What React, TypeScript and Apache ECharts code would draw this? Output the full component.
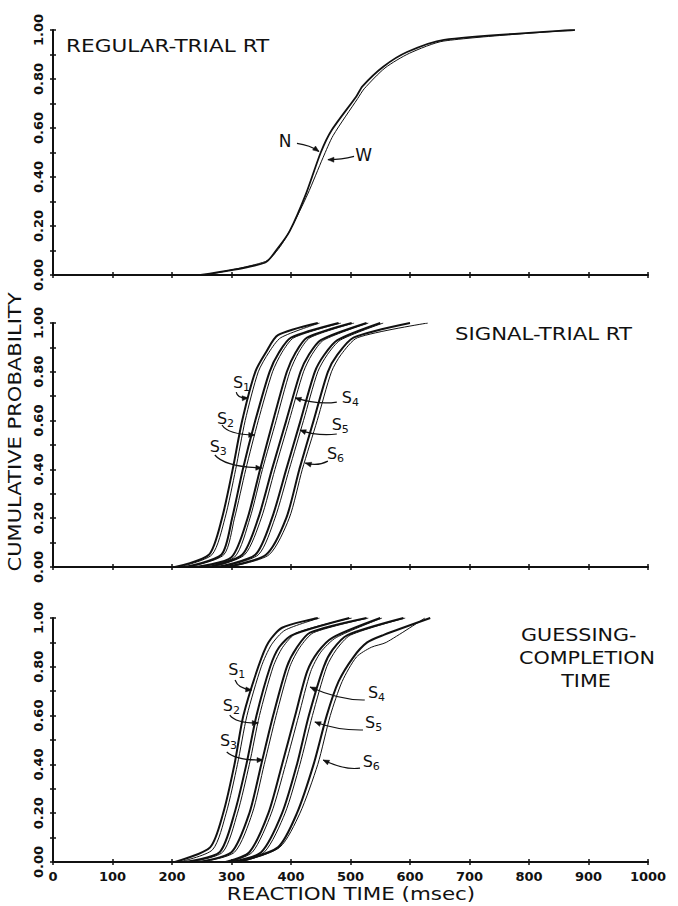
import React, { useEffect, useRef } from "react";
import * as echarts from "echarts";

type Pt = [number, number];

// Axis ranges and tick values
const X_MIN = 0;
const X_MAX = 1000;
const X_STEP = 100;
const Y_MIN = 0;
const Y_MAX = 1;
const Y_STEP = 0.1;

// Regular-trial RT distributions (msec, cumulative probability)
const regularN: Pt[] = [
  [248, 0], [356, 0.05], [378, 0.11], [398, 0.18], [425, 0.33], [450, 0.5],
  [468, 0.59], [510, 0.73], [520, 0.77], [555, 0.85], [595, 0.91], [657, 0.96], [877, 1.0],
];
const regularW: Pt[] = [
  [256, 0], [357, 0.055], [380, 0.11], [400, 0.19], [428, 0.33], [454, 0.48],
  [471, 0.57], [512, 0.72], [523, 0.76], [558, 0.845], [599, 0.905], [657, 0.955], [877, 1.0],
];

// Signal-trial RT, six subjects, two curves each
const signalS1a: Pt[] = [[205, 0], [262, 0.05], [284, 0.2], [302, 0.4], [318, 0.6], [340, 0.8], [358, 0.88], [378, 0.95], [445, 1.0]];
const signalS1b: Pt[] = [[212, 0], [267, 0.05], [289, 0.2], [307, 0.4], [323, 0.6], [345, 0.8], [363, 0.88], [383, 0.94], [448, 1.0]];
const signalS2a: Pt[] = [[222, 0], [283, 0.05], [301, 0.2], [319, 0.4], [340, 0.6], [364, 0.8], [380, 0.88], [400, 0.94], [480, 1.0]];
const signalS2b: Pt[] = [[228, 0], [287, 0.05], [305, 0.2], [324, 0.4], [345, 0.6], [369, 0.8], [385, 0.88], [405, 0.94], [484, 1.0]];
const signalS3a: Pt[] = [[240, 0], [300, 0.04], [327, 0.2], [348, 0.4], [370, 0.6], [393, 0.8], [408, 0.88], [427, 0.94], [502, 1.0]];
const signalS3b: Pt[] = [[246, 0], [305, 0.04], [331, 0.2], [352, 0.4], [375, 0.6], [398, 0.8], [413, 0.88], [432, 0.94], [506, 1.0]];
const signalS4a: Pt[] = [[262, 0], [318, 0.05], [345, 0.2], [368, 0.4], [392, 0.6], [416, 0.8], [430, 0.87], [450, 0.93], [527, 1.0]];
const signalS4b: Pt[] = [[268, 0], [322, 0.05], [350, 0.2], [373, 0.4], [397, 0.6], [421, 0.8], [435, 0.87], [455, 0.93], [530, 1.0]];
const signalS5a: Pt[] = [[276, 0], [340, 0.05], [368, 0.2], [392, 0.4], [416, 0.6], [440, 0.8], [456, 0.87], [478, 0.93], [550, 1.0]];
const signalS5b: Pt[] = [[282, 0], [345, 0.05], [373, 0.2], [397, 0.4], [421, 0.6], [445, 0.8], [461, 0.87], [483, 0.93], [555, 1.0]];
const signalS6a: Pt[] = [[290, 0], [358, 0.05], [392, 0.2], [414, 0.4], [438, 0.6], [462, 0.8], [478, 0.87], [505, 0.94], [600, 1.0]];
const signalS6b: Pt[] = [[296, 0], [363, 0.05], [397, 0.2], [419, 0.4], [444, 0.6], [468, 0.8], [484, 0.87], [512, 0.94], [630, 1.0]];

// Guessing-completion time, six subjects, two curves each
const guessS1a: Pt[] = [[205, 0], [264, 0.06], [286, 0.2], [305, 0.4], [320, 0.6], [345, 0.8], [362, 0.9], [385, 0.96], [445, 1.0]];
const guessS1b: Pt[] = [[212, 0], [268, 0.05], [291, 0.2], [310, 0.4], [326, 0.6], [350, 0.8], [367, 0.89], [390, 0.95], [448, 1.0]];
const guessS2a: Pt[] = [[222, 0], [280, 0.04], [305, 0.2], [325, 0.4], [342, 0.6], [365, 0.8], [380, 0.88], [402, 0.93], [498, 1.0]];
const guessS2b: Pt[] = [[230, 0], [285, 0.04], [310, 0.2], [330, 0.4], [347, 0.6], [370, 0.8], [386, 0.88], [410, 0.94], [502, 1.0]];
const guessS3a: Pt[] = [[245, 0], [300, 0.04], [330, 0.2], [350, 0.4], [370, 0.6], [393, 0.8], [410, 0.88], [432, 0.94], [527, 1.0]];
const guessS3b: Pt[] = [[250, 0], [305, 0.04], [335, 0.2], [355, 0.4], [375, 0.6], [398, 0.8], [415, 0.88], [438, 0.94], [530, 1.0]];
const guessS4a: Pt[] = [[290, 0], [330, 0.04], [362, 0.2], [385, 0.4], [407, 0.6], [427, 0.78], [445, 0.86], [470, 0.92], [550, 1.0]];
const guessS4b: Pt[] = [[296, 0], [335, 0.04], [367, 0.2], [391, 0.4], [413, 0.6], [433, 0.78], [450, 0.86], [476, 0.92], [553, 1.0]];
const guessS5a: Pt[] = [[300, 0], [350, 0.04], [385, 0.2], [410, 0.4], [430, 0.6], [455, 0.8], [470, 0.87], [495, 0.93], [589, 1.0]];
const guessS5b: Pt[] = [[306, 0], [355, 0.04], [390, 0.2], [415, 0.4], [436, 0.6], [460, 0.8], [476, 0.87], [500, 0.93], [592, 1.0]];
const guessS6a: Pt[] = [[310, 0], [378, 0.06], [410, 0.2], [438, 0.4], [460, 0.6], [480, 0.74], [505, 0.84], [528, 0.9], [555, 0.93], [634, 1.0]];
const guessS6b: Pt[] = [[315, 0], [381, 0.06], [415, 0.2], [445, 0.4], [466, 0.6], [486, 0.74], [510, 0.84], [535, 0.88], [560, 0.9], [625, 1.0]];

// Curve annotations in data units: label point, arrow start, control, tip
type Note = { text: string; sub?: string; label: Pt; from: Pt; ctrl: Pt; to: Pt };
const regularNotes: Note[] = [
  { text: "N", label: [390, 0.545], from: [410, 0.537], ctrl: [432, 0.53], to: [447, 0.504] },
  { text: "W", label: [522, 0.49], from: [506, 0.484], ctrl: [482, 0.47], to: [462, 0.471] },
];
const signalNotes: Note[] = [
  { text: "S", sub: "1", label: [311, 0.758], from: [308, 0.717], ctrl: [310, 0.69], to: [328, 0.693] },
  { text: "S", sub: "2", label: [284, 0.61], from: [284, 0.582], ctrl: [294, 0.543], to: [339, 0.541] },
  { text: "S", sub: "3", label: [272, 0.492], from: [272, 0.459], ctrl: [289, 0.41], to: [351, 0.406] },
  { text: "S", sub: "4", label: [494, 0.693], from: [477, 0.676], ctrl: [445, 0.664], to: [407, 0.693] },
  { text: "S", sub: "5", label: [477, 0.582], from: [477, 0.545], ctrl: [445, 0.535], to: [415, 0.561] },
  { text: "S", sub: "6", label: [469, 0.467], from: [462, 0.434], ctrl: [445, 0.412], to: [424, 0.426] },
];
const guessNotes: Note[] = [
  { text: "S", sub: "1", label: [303, 0.787], from: [306, 0.746], ctrl: [311, 0.71], to: [334, 0.705] },
  { text: "S", sub: "2", label: [294, 0.643], from: [297, 0.602], ctrl: [308, 0.568], to: [345, 0.57] },
  { text: "S", sub: "3", label: [289, 0.5], from: [292, 0.451], ctrl: [308, 0.416], to: [353, 0.418] },
  { text: "S", sub: "4", label: [538, 0.693], from: [524, 0.664], ctrl: [482, 0.662], to: [432, 0.717] },
  { text: "S", sub: "5", label: [533, 0.57], from: [521, 0.541], ctrl: [479, 0.539], to: [440, 0.574] },
  { text: "S", sub: "6", label: [529, 0.41], from: [516, 0.385], ctrl: [491, 0.375], to: [454, 0.418] },
];

const INK = "#111";
const FONT = "DejaVu Sans";

const panels = [
  { top: 30, height: 245, curves: [[regularN, 1.8], [regularW, 1.0]] as [Pt[], number][], notes: regularNotes },
  {
    top: 323, height: 244,
    curves: [
      [signalS1a, 2], [signalS1b, 1], [signalS2a, 2], [signalS2b, 1], [signalS3a, 2], [signalS3b, 1],
      [signalS4a, 2], [signalS4b, 1], [signalS5a, 2], [signalS5b, 1], [signalS6a, 2], [signalS6b, 1],
    ] as [Pt[], number][],
    notes: signalNotes,
  },
  {
    top: 618, height: 244,
    curves: [
      [guessS1a, 2], [guessS1b, 1], [guessS2a, 2], [guessS2b, 1], [guessS3a, 2], [guessS3b, 1],
      [guessS4a, 2], [guessS4b, 1], [guessS5a, 2], [guessS5b, 1], [guessS6a, 2], [guessS6b, 1],
    ] as [Pt[], number][],
    notes: guessNotes,
  },
];

function buildOption() {
  const grid = panels.map((p) => ({ left: 53, width: 595, top: p.top, height: p.height }));
  const xAxis: any[] = [];
  const yAxis: any[] = [];
  const labelStyle = { color: INK, fontFamily: FONT, fontWeight: "bold", fontSize: 13 };
  // primary axes (outer ticks, labels)
  panels.forEach((_, k) => {
    xAxis.push({
      type: "value", gridIndex: k, min: X_MIN, max: X_MAX, interval: X_STEP, position: "bottom",
      axisLine: { show: true, onZero: false, lineStyle: { color: INK, width: 2 } },
      axisTick: { show: true, length: 3, lineStyle: { color: INK, width: 1.5 } },
      axisLabel: { show: k === 2, margin: 8, ...labelStyle, formatter: (v: number) => String(v) },
      splitLine: { show: false },
    });
    yAxis.push({
      type: "value", gridIndex: k, min: Y_MIN, max: Y_MAX, interval: Y_STEP, position: "left",
      axisLine: { show: true, onZero: false, lineStyle: { color: INK, width: 2 } },
      axisTick: { show: true, length: 3, lineStyle: { color: INK, width: 1.5 } },
      axisLabel: {
        show: true, rotate: 90, margin: 8, ...labelStyle,
        formatter: (v: number) => (Math.round(v * 10) % 2 === 0 ? v.toFixed(2) : ""),
      },
      splitLine: { show: false },
    });
  });
  // secondary axes (inner ticks, making small crosses)
  panels.forEach((_, k) => {
    xAxis.push({
      type: "value", gridIndex: k, min: X_MIN, max: X_MAX, interval: X_STEP, position: "bottom",
      axisLine: { show: false }, axisLabel: { show: false }, splitLine: { show: false },
      axisTick: { show: true, inside: true, length: 3, lineStyle: { color: INK, width: 1.5 } },
    });
    yAxis.push({
      type: "value", gridIndex: k, min: Y_MIN, max: Y_MAX, interval: Y_STEP, position: "left",
      axisLine: { show: false }, axisLabel: { show: false }, splitLine: { show: false },
      axisTick: { show: true, inside: true, length: 3, lineStyle: { color: INK, width: 1.5 } },
    });
  });
  const series: any[] = [];
  panels.forEach((p, k) => {
    p.curves.forEach(([data, w]) => {
      series.push({
        type: "line", xAxisIndex: k, yAxisIndex: k, data, showSymbol: false, symbol: "none",
        smooth: 0.25,
        lineStyle: { color: INK, width: w }, silent: true, z: 3,
      });
    });
  });
  return { animation: false, backgroundColor: "#fff", grid, xAxis, yAxis, series };
}

function staticTexts(): any[] {
  const t = (text: string, x: number, y: number, sx: number, align = "left", rotation = 0) => ({
    type: "text", x, y, scaleX: sx, rotation, silent: true,
    style: { text, x: 0, y: 0, fontFamily: FONT, fontSize: 18, fill: INK, align, verticalAlign: "middle" },
  });
  return [
    t("REGULAR-TRIAL RT", 66, 46, 1.2),
    t("SIGNAL-TRIAL RT", 455, 334, 1.18),
    t("GUESSING-", 521, 635, 1.15),
    t("COMPLETION", 587, 658, 1.15, "center"),
    t("TIME", 586, 681, 1.15, "center"),
    t("CUMULATIVE PROBABILITY", 15, 432, 1.17, "center", Math.PI / 2),
    t("REACTION TIME (msec)", 351, 894, 1.19, "center"),
  ];
}

function noteGraphics(chart: echarts.ECharts): any[] {
  const out: any[] = [];
  panels.forEach((p, k) => {
    const px = (pt: Pt) => chart.convertToPixel({ xAxisIndex: k, yAxisIndex: k } as any, pt) as number[];
    p.notes.forEach((n) => {
      const [lx, ly] = px(n.label);
      const [fx, fy] = px(n.from);
      const [cx, cy] = px(n.ctrl);
      const [tx, ty] = px(n.to);
      out.push({
        type: "text", x: lx, y: ly, silent: true,
        style: { text: n.text, fontFamily: FONT, fontSize: n.sub ? 16 : 17, fill: INK, align: "center", verticalAlign: "middle" },
      });
      if (n.sub) {
        out.push({
          type: "text", x: lx + 5, y: ly + 5, silent: true,
          style: { text: n.sub, fontFamily: FONT, fontSize: 11, fill: INK, align: "left", verticalAlign: "middle" },
        });
      }
      out.push({
        type: "bezierCurve", silent: true,
        shape: { x1: fx, y1: fy, x2: tx, y2: ty, cpx1: cx, cpy1: cy },
        style: { stroke: INK, lineWidth: 1.2, fill: null },
      });
      const dx = tx - cx;
      const dy = ty - cy;
      const len = Math.hypot(dx, dy) || 1;
      const ux = dx / len;
      const uy = dy / len;
      const hl = 6;
      const hw = 2.5;
      out.push({
        type: "polygon", silent: true,
        shape: {
          points: [
            [tx, ty],
            [tx - ux * hl - uy * hw, ty - uy * hl + ux * hw],
            [tx - ux * hl + uy * hw, ty - uy * hl - ux * hw],
          ],
        },
        style: { fill: INK, stroke: INK, lineWidth: 0.5 },
      });
    });
  });
  return out;
}

export default function App() {
  const ref = useRef<HTMLDivElement>(null);
  useEffect(() => {
    document.body.style.margin = "0";
    if (!ref.current) return;
    const chart = echarts.init(ref.current, undefined, { renderer: "svg" });
    chart.setOption(buildOption());
    chart.setOption({ graphic: [...staticTexts(), ...noteGraphics(chart)] });
    return () => chart.dispose();
  }, []);
  return <div ref={ref} style={{ width: 678, height: 906 }} />;
}
